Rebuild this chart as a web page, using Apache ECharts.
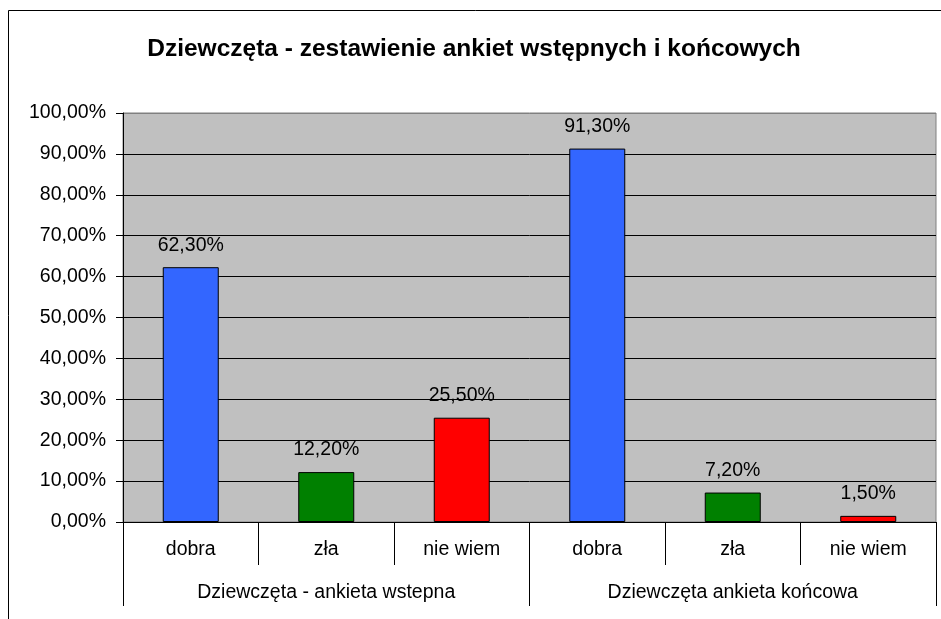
<!DOCTYPE html>
<html>
<head>
<meta charset="utf-8">
<script src="https://cdn.jsdelivr.net/npm/echarts@6/dist/echarts.min.js"></script>
<style>
html, body { margin: 0; padding: 0; background: #fff; }
#chart { width: 941px; height: 619px; }
</style>
</head>
<body>
<div id="chart"></div>
<script>
// dane z wykresu
var categories = ['dobra', 'zła', 'nie wiem', 'dobra', 'zła', 'nie wiem']
var groups = ['Dziewczęta - ankieta wstepna', 'Dziewczęta ankieta końcowa']
var values = [62.3, 12.2, 25.5, 91.3, 7.2, 1.5]
var barColors = ['#3366FF', '#008000', '#FF0000', '#3366FF', '#008000', '#FF0000']
var yTicks = [0, 10, 20, 30, 40, 50, 60, 70, 80, 90, 100]

var font = 'Liberation Sans, Arial, sans-serif'
var fs = 19.5

function pct (v) {
    return v.toFixed(2).replace('.', ',') + '%'
}

var chart = echarts.init(document.getElementById('chart'))

var gridColors = yTicks.map(function (t) { return t === 100 ? '#808080' : '#000000' })

var option = {
    animation: false,
    title: {
        text: 'Dziewczęta - zestawienie ankiet wstępnych i końcowych',
        left: 469,
        top: 32,
        textAlign: 'center',
        textStyle: {
            fontFamily: font,
            fontSize: 24.5,
            fontWeight: 'bold',
            color: '#000'
        }
    },
    graphic: [{
        type: 'rect',
        shape: { x: 8.5, y: 10.5, width: 1000, height: 1000 },
        style: { fill: 'none', stroke: '#000', lineWidth: 1 },
        silent: true
    }],
    grid: {
        left: 123,
        right: 5,
        top: 113,
        bottom: 97,
        show: true,
        backgroundColor: '#C0C0C0',
        borderColor: '#808080',
        borderWidth: 1
    },
    xAxis: [{
        type: 'category',
        data: categories,
        position: 'bottom',
        axisLine: { show: true, lineStyle: { color: '#000', width: 1 } },
        axisTick: {
            show: true,
            interval: 0,
            length: 43,
            lineStyle: { color: '#000' }
        },
        axisLabel: {
            interval: 0,
            margin: 18,
            fontFamily: font,
            fontSize: fs,
            color: '#000'
        }
    }, {
        type: 'category',
        data: groups,
        position: 'bottom',
        axisLine: { show: false },
        axisTick: {
            show: true,
            interval: 0,
            length: 84,
            lineStyle: { color: '#000' }
        },
        axisLabel: {
            interval: 0,
            margin: 61,
            fontFamily: font,
            fontSize: fs,
            color: '#000'
        }
    }],
    yAxis: {
        type: 'value',
        min: 0,
        max: 100,
        interval: 10,
        axisLine: { show: true, lineStyle: { color: '#000' } },
        axisTick: { show: true, length: 7, lineStyle: { color: '#000' } },
        splitLine: { show: true, lineStyle: { color: gridColors, width: 1 } },
        axisLabel: {
            margin: 17,
            padding: [4, 0, 0, 0],
            fontFamily: font,
            fontSize: fs,
            color: '#000',
            formatter: function (v) { return pct(v) }
        }
    },
    series: [{
        type: 'bar',
        xAxisIndex: 0,
        barWidth: 56,
        data: values.map(function (v, i) {
            return {
                value: v,
                itemStyle: { color: barColors[i], borderColor: '#000', borderWidth: 1 }
            }
        }),
        label: {
            show: true,
            position: 'top',
            distance: 12,
            fontFamily: font,
            fontSize: fs,
            color: '#000',
            formatter: function (p) { return pct(p.value) }
        }
    }]
}

chart.setOption(option)
</script>
</body>
</html>
